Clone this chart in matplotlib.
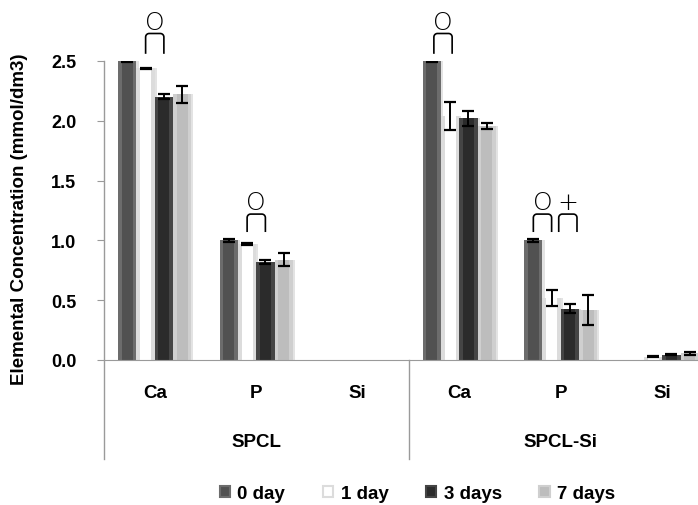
import numpy as np
import matplotlib
matplotlib.use("Agg")
import matplotlib.pyplot as plt
from matplotlib.patches import Patch

plt.rcParams["font.family"] = ["Liberation Sans", "DejaVu Sans"]

groups = ["SPCL", "SPCL-Si"]
elements = ["Ca", "P", "Si"]
series = ["0 day", "1 day", "3 days", "7 days"]

# one value per category: Ca, P, Si (SPCL) then Ca, P, Si (SPCL-Si)
day0 = [2.50, 1.00, 0.00, 2.50, 1.00, 0.00]
day1 = [2.44, 0.97, 0.00, 2.04, 0.52, 0.028]
day3 = [2.20, 0.82, 0.00, 2.02, 0.43, 0.045]
day7 = [2.22, 0.84, 0.00, 1.96, 0.42, 0.055]
err0 = [0.010, 0.010, 0.0, 0.010, 0.010, 0.0]
err1 = [0.005, 0.005, 0.0, 0.120, 0.065, 0.005]
err3 = [0.020, 0.015, 0.0, 0.065, 0.040, 0.005]
err7 = [0.070, 0.055, 0.0, 0.025, 0.125, 0.012]

# significance marks: (category, bar a, bar b, x shift, bracket bottom, bracket top, symbol)
sig_marks = [
    (0, 1, 2, 0.00, 2.56, 2.73, "O"),
    (1, 1, 2, 0.00, 1.07, 1.22, "O"),
    (3, 0, 1, 0.02, 2.56, 2.73, "O"),
    (4, 0, 1, 0.00, 1.07, 1.22, "O"),
    (4, 1, 2, 0.07, 1.07, 1.22, "+"),
]

values = [day0, day1, day3, day7]
errors = [err0, err1, err3, err7]
outer = ["#6c6c6c", "#dcdcdc", "#454545", "#cfcfcf"]
inner = ["#515151", "#ffffff", "#2b2b2b", "#bdbdbd"]

fig = plt.figure(figsize=(6.98, 5.06), dpi=100)
ax = fig.add_axes([104 / 698, 145 / 506, 609 / 698, 299 / 506])

n_cat = len(groups) * len(elements)
x = np.arange(n_cat)
w = 0.18
offsets = (np.arange(len(series)) - 1.5) * w

for k, name in enumerate(series):
    xs = x + offsets[k]
    # soft shadow on the right side of each bar
    ax.bar(xs + 0.02, values[k], width=w, color="#e3e3e3", linewidth=0, zorder=1.5)
    ax.bar(xs, values[k], width=w, color=outer[k], linewidth=0, zorder=2)
    ax.bar(xs, values[k], width=w * 0.6, color=inner[k], linewidth=0, zorder=2.1)
    mask = np.array(errors[k]) > 0
    ax.errorbar(xs[mask], np.array(values[k])[mask], yerr=np.array(errors[k])[mask],
                fmt="none", ecolor="black", elinewidth=1.4, capsize=4, capthick=1.6,
                zorder=3)

# brackets with rounded corners plus symbol above
rx, ry = 0.035, 0.03
t = np.linspace(0, np.pi / 2, 8)
for cat, a, b, shift, yb, yt, sym in sig_marks:
    x0 = x[cat] + offsets[a] + shift
    x1 = x[cat] + offsets[b] + shift
    left_arc_x = x0 + rx - rx * np.cos(t)
    left_arc_y = yt - ry + ry * np.sin(t)
    right_arc_x = x1 - rx + rx * np.cos(t[::-1])
    right_arc_y = yt - ry + ry * np.sin(t[::-1])
    px = np.concatenate([[x0], left_arc_x, right_arc_x, [x1]])
    py = np.concatenate([[yb], left_arc_y, right_arc_y, [yb]])
    ax.plot(px, py, color="black", lw=1.2, clip_on=False, solid_capstyle="butt")
    ax.text((x0 + x1) / 2, yt + 0.1, sym, ha="center", va="center", fontsize=18,
            family=["DejaVu Sans"], fontweight=200, clip_on=False)

ax.set_xlim(-0.5, n_cat - 0.5)
ax.set_ylim(0, 2.5)
ax.set_xticks([])
ax.set_yticks(np.arange(0, 2.51, 0.5))
ax.set_yticklabels([f"{v:.1f}" for v in np.arange(0, 2.51, 0.5)],
                   fontsize=13, fontweight="bold")
ax.tick_params(axis="y", length=5, color="#9a9a9a", pad=15)
for s in ["top", "right", "left"]:
    ax.spines[s].set_visible(False)
ax.spines["bottom"].set_color("#9a9a9a")
ax.patch.set_alpha(0)

# axis line and group separators down through the label area
y_low = -0.83
for sx in [-0.5, 2.5, 5.5]:
    ytop = 2.5 if sx == -0.5 else 0
    ax.plot([sx, sx], [y_low, ytop], color="#9a9a9a", lw=1, clip_on=False)

for i in range(n_cat):
    ax.text(x[i], -0.27, elements[i % len(elements)], ha="center", va="center",
            fontsize=13.5, fontweight="bold", clip_on=False)
for g, name in enumerate(groups):
    ax.text(g * len(elements) + 1, -0.68, name, ha="center", va="center",
            fontsize=13.5, fontweight="bold", clip_on=False)

fig.text(20 / 698, 0.567, "Elemental Concentration (mmol/dm3)", rotation=90,
         ha="center", va="center", fontsize=13.5, fontweight="bold")

handles = [Patch(facecolor=inner[k], edgecolor=outer[k], linewidth=1.5) for k in range(len(series))]
fig.legend(handles, series, loc="center", bbox_to_anchor=(0.598, 0.022), ncol=4,
           frameon=False, handlelength=0.55, handleheight=0.55, handletextpad=0.4,
           columnspacing=2.0, prop={"weight": "bold", "size": 13.5})

fig.savefig("out.png", dpi=100)
